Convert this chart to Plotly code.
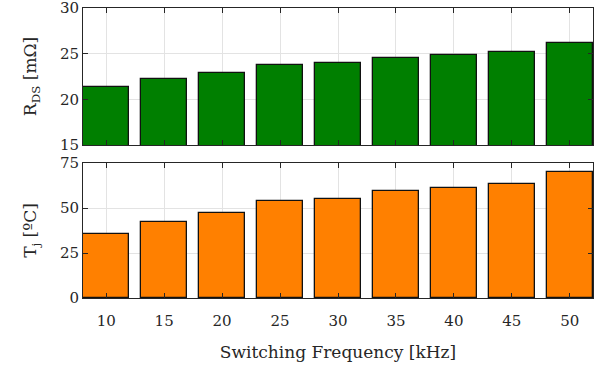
import plotly.graph_objects as go
from plotly.subplots import make_subplots

freq = [10, 15, 20, 25, 30, 35, 40, 45, 50]
rds = [21.3, 22.2, 22.85, 23.8, 24.0, 24.56, 24.85, 25.15, 26.2]
tj = [35.6, 42.4, 47.0, 53.7, 55.2, 59.4, 61.3, 63.3, 70.1]

FONT = "DejaVu Serif, Liberation Serif, serif"
TC = "#262626"

fig = make_subplots(rows=2, cols=1, shared_xaxes=True, vertical_spacing=0.0)
fig.add_trace(go.Bar(x=freq, y=rds, width=4, marker=dict(color="#007F00", line=dict(color="#111111", width=1.3)), showlegend=False), row=1, col=1)
fig.add_trace(go.Bar(x=freq, y=tj, width=4, marker=dict(color="#FF8000", line=dict(color="#111111", width=1.3)), showlegend=False), row=2, col=1)

axcommon = dict(showline=True, linecolor=TC, linewidth=1, mirror="ticks", ticks="inside",
                ticklen=5, tickcolor=TC, showgrid=True, gridcolor="#E3E3E3", gridwidth=1,
                zeroline=False, automargin=False, ticklabeloverflow="allow",
                tickfont=dict(family=FONT, size=15, color=TC))

fig.update_xaxes(**axcommon, range=[8, 52], tickvals=freq)
fig.update_xaxes(showticklabels=False, row=1, col=1)
fig.update_xaxes(ticklabelstandoff=9,
                 title=dict(text="Switching Frequency [kHz]", font=dict(family=FONT, size=17, color=TC), standoff=17), row=2, col=1)
fig.update_yaxes(**axcommon)
fig.update_yaxes(range=[15, 30], tickvals=[15, 20, 25, 30], domain=[0.528, 1.0],
                 title=dict(text="R<sub>DS</sub> [mΩ]", font=dict(family=FONT, size=17, color=TC), standoff=18), row=1, col=1)
fig.update_yaxes(range=[0, 75], tickvals=[0, 25, 50, 75], domain=[0.0, 0.4655],
                 title=dict(text="T<sub>j</sub> [ºC]", font=dict(family=FONT, size=17, color=TC), standoff=18), row=2, col=1)

fig.update_layout(width=608, height=370, margin=dict(l=83, r=15, t=8, b=72, autoexpand=False),
                  plot_bgcolor="white", paper_bgcolor="white", bargap=0, font=dict(family=FONT))
fig.write_html("out.html", config={"displayModeBar": False},
               post_script="document.body.style.margin='0';document.body.style.padding='0';")
